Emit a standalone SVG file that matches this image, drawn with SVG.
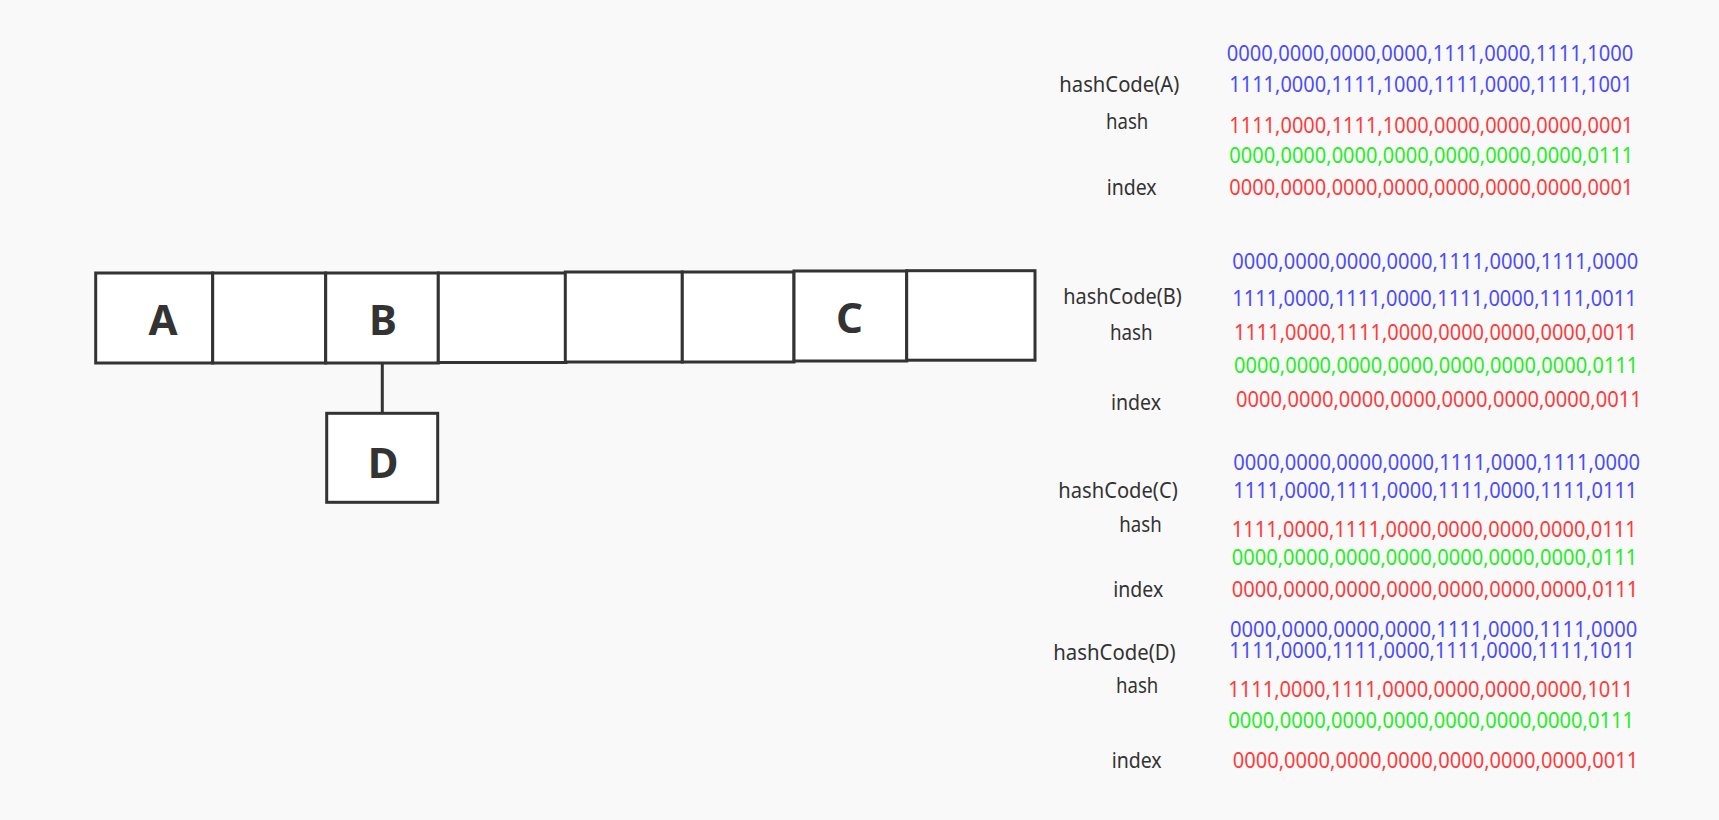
<svg xmlns="http://www.w3.org/2000/svg" width="1719" height="820" viewBox="0 0 1719 820">
<style>
.cell{fill:#ffffff;stroke:#333333;stroke-width:3}
.big{font-family:"Noto Sans","Open Sans",sans-serif;font-weight:bold;font-size:42px;fill:#333333;text-anchor:middle}
.lbl{font-family:"Noto Sans","Open Sans",sans-serif;font-size:21px;fill:#333333}
.num{font-family:"Noto Sans","Open Sans",sans-serif;font-size:21px}
.b{fill:#4b4bff}
.r{fill:#ff3a3a}
.g{fill:#22ee22}
.conn{stroke:#333333;stroke-width:3;fill:none}
</style>
<rect x="0" y="0" width="1719" height="820" fill="#f9f9f9"/>
<g id="connectors">
<line class="conn" x1="382.3" y1="363" x2="382.3" y2="413.3"/>
</g>
<g id="cell1"><rect class="cell" x="95.7" y="273" width="117" height="90"/><text class="big" x="163" y="335">A</text></g>
<g id="cell2"><rect class="cell" x="212.7" y="273" width="113" height="90"/></g>
<g id="cell3"><rect class="cell" x="325.7" y="273" width="112.6" height="90"/><text class="big" x="383" y="335">B</text></g>
<g id="cell4"><rect class="cell" x="438.3" y="273" width="127.7" height="89.5"/></g>
<g id="cell5"><rect class="cell" x="565.3" y="272" width="117" height="90"/></g>
<g id="cell6"><rect class="cell" x="682.3" y="272" width="111.7" height="90"/></g>
<g id="cell7"><rect class="cell" x="794" y="271" width="112.7" height="90"/><text class="big" x="849.5" y="333">C</text></g>
<g id="cell8"><rect class="cell" x="906.7" y="270.7" width="128.3" height="89.5"/></g>
<g id="nodeD"><rect class="cell" x="326.7" y="413.3" width="111" height="89"/><text class="big" x="383" y="478">D</text></g>

<g id="calcA">
<text class="num b" x="1226.7" y="60.7" textLength="406.6" lengthAdjust="spacingAndGlyphs">0000,0000,0000,0000,1111,0000,1111,1000</text>
<text class="lbl" x="1059.3" y="91.7" textLength="120" lengthAdjust="spacingAndGlyphs">hashCode(A)</text>
<text class="num b" x="1229.3" y="91.7" textLength="403.4" lengthAdjust="spacingAndGlyphs">1111,0000,1111,1000,1111,0000,1111,1001</text>
<text class="lbl" x="1106" y="129.3" textLength="42.3" lengthAdjust="spacingAndGlyphs">hash</text>
<text class="num r" x="1229.3" y="133.3" textLength="404" lengthAdjust="spacingAndGlyphs">1111,0000,1111,1000,0000,0000,0000,0001</text>
<text class="num g" x="1229.3" y="162.7" textLength="404" lengthAdjust="spacingAndGlyphs">0000,0000,0000,0000,0000,0000,0000,0111</text>
<text class="lbl" x="1106.7" y="195" textLength="50" lengthAdjust="spacingAndGlyphs">index</text>
<text class="num r" x="1229.3" y="195" textLength="404" lengthAdjust="spacingAndGlyphs">0000,0000,0000,0000,0000,0000,0000,0001</text>
</g>

<g id="calcB">
<text class="num b" x="1232.3" y="269.3" textLength="406" lengthAdjust="spacingAndGlyphs">0000,0000,0000,0000,1111,0000,1111,0000</text>
<text class="lbl" x="1063.3" y="304" textLength="118.4" lengthAdjust="spacingAndGlyphs">hashCode(B)</text>
<text class="num b" x="1232.3" y="306" textLength="404.4" lengthAdjust="spacingAndGlyphs">1111,0000,1111,0000,1111,0000,1111,0011</text>
<text class="lbl" x="1110" y="340" textLength="42.7" lengthAdjust="spacingAndGlyphs">hash</text>
<text class="num r" x="1234" y="340" textLength="403.3" lengthAdjust="spacingAndGlyphs">1111,0000,1111,0000,0000,0000,0000,0011</text>
<text class="num g" x="1234" y="372.7" textLength="404.3" lengthAdjust="spacingAndGlyphs">0000,0000,0000,0000,0000,0000,0000,0111</text>
<text class="lbl" x="1111" y="410" textLength="50" lengthAdjust="spacingAndGlyphs">index</text>
<text class="num r" x="1236" y="406.7" textLength="405.7" lengthAdjust="spacingAndGlyphs">0000,0000,0000,0000,0000,0000,0000,0011</text>
</g>

<g id="calcC">
<text class="num b" x="1233.3" y="470" textLength="406.7" lengthAdjust="spacingAndGlyphs">0000,0000,0000,0000,1111,0000,1111,0000</text>
<text class="lbl" x="1058.3" y="498.3" textLength="119.4" lengthAdjust="spacingAndGlyphs">hashCode(C)</text>
<text class="num b" x="1233.3" y="498.3" textLength="404" lengthAdjust="spacingAndGlyphs">1111,0000,1111,0000,1111,0000,1111,0111</text>
<text class="lbl" x="1119.3" y="531.7" textLength="42.4" lengthAdjust="spacingAndGlyphs">hash</text>
<text class="num r" x="1231.7" y="536.7" textLength="405" lengthAdjust="spacingAndGlyphs">1111,0000,1111,0000,0000,0000,0000,0111</text>
<text class="num g" x="1231.7" y="565" textLength="405.6" lengthAdjust="spacingAndGlyphs">0000,0000,0000,0000,0000,0000,0000,0111</text>
<text class="lbl" x="1113.3" y="596.7" textLength="50" lengthAdjust="spacingAndGlyphs">index</text>
<text class="num r" x="1231.7" y="596.7" textLength="406.6" lengthAdjust="spacingAndGlyphs">0000,0000,0000,0000,0000,0000,0000,0111</text>
</g>

<g id="calcD">
<text class="num b" x="1230" y="636.7" textLength="407.3" lengthAdjust="spacingAndGlyphs">0000,0000,0000,0000,1111,0000,1111,0000</text>
<text class="lbl" x="1053.3" y="660" textLength="122.4" lengthAdjust="spacingAndGlyphs">hashCode(D)</text>
<text class="num b" x="1229.3" y="658.3" textLength="405.7" lengthAdjust="spacingAndGlyphs">1111,0000,1111,0000,1111,0000,1111,1011</text>
<text class="lbl" x="1116" y="693.3" textLength="42.3" lengthAdjust="spacingAndGlyphs">hash</text>
<text class="num r" x="1228.3" y="696.7" textLength="405" lengthAdjust="spacingAndGlyphs">1111,0000,1111,0000,0000,0000,0000,1011</text>
<text class="num g" x="1228.3" y="728.3" textLength="405.7" lengthAdjust="spacingAndGlyphs">0000,0000,0000,0000,0000,0000,0000,0111</text>
<text class="lbl" x="1111.7" y="768.3" textLength="50" lengthAdjust="spacingAndGlyphs">index</text>
<text class="num r" x="1232.7" y="768.3" textLength="405.6" lengthAdjust="spacingAndGlyphs">0000,0000,0000,0000,0000,0000,0000,0011</text>
</g>
</svg>
